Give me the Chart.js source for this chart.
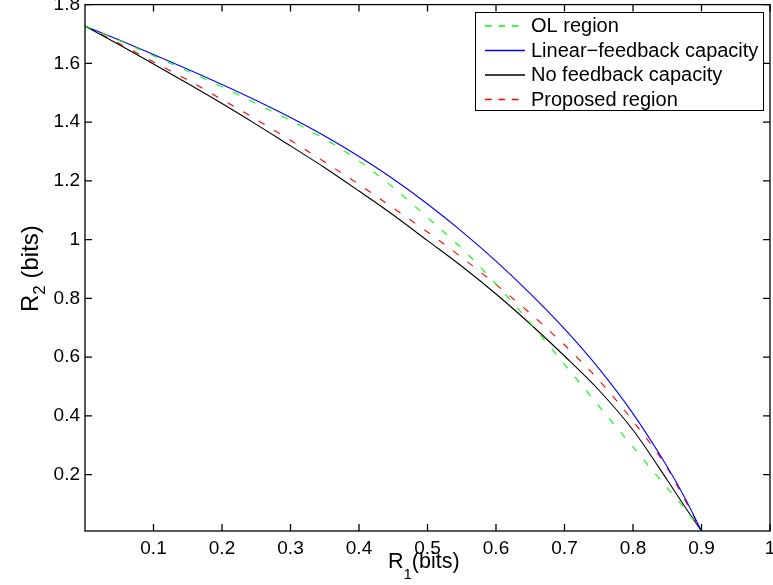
<!DOCTYPE html>
<html>
<head>
<meta charset="utf-8">
<script src="https://cdn.jsdelivr.net/npm/chart.js@4.4.0/dist/chart.umd.min.js"></script>
<style>
    html, body { margin: 0; padding: 0; background: #fff; }
</style>
</head>
<body>
<canvas id="graphique-regions" width="773" height="585"></canvas>
<script>
// R1 (bits) : abscisses communes aux quatre courbes
const r1Values = [0, 0.05, 0.1, 0.15, 0.2, 0.25, 0.3, 0.35, 0.4, 0.45, 0.5, 0.55, 0.6, 0.65, 0.7, 0.75, 0.8, 0.85, 0.875, 0.9];

// R2 (bits)
const olRegion       = [1.727, 1.678, 1.626, 1.574, 1.520, 1.463, 1.4055, 1.3425, 1.2675, 1.1773, 1.0752, 0.970, 0.849, 0.716, 0.5755, 0.434, 0.294, 0.154, 0.086, 0.008];
const linearFeedback = [1.727, 1.6795, 1.630, 1.580, 1.528, 1.4735, 1.4157, 1.3527, 1.2829, 1.2063, 1.1212, 1.0279, 0.9265, 0.8158, 0.6957, 0.5615, 0.4077, 0.2265, 0.124, 0.008];
const noFeedback     = [1.727, 1.6635, 1.5978, 1.5314, 1.4633, 1.3922, 1.319, 1.2448, 1.1654, 1.0837, 0.9966, 0.9091, 0.8148, 0.7127, 0.6037, 0.488, 0.3518, 0.1816, 0.0931, 0.008];
const proposedRegion = [1.727, 1.6676, 1.6046, 1.5433, 1.4769, 1.4089, 1.338, 1.2642, 1.1876, 1.1076, 1.0259, 0.9391, 0.8471, 0.7484, 0.6412, 0.522, 0.3824, 0.2225, 0.116, 0.008];

const seriesLabels = ["OL region", "Linear\u2212feedback capacity", "No feedback capacity", "Proposed region"];
const seriesColors = ["rgb(0, 255, 0)", "rgb(0, 0, 255)", "rgb(0, 0, 0)", "rgb(255, 0, 0)"];

// Graduations
const xTicks = [0.1, 0.2, 0.3, 0.4, 0.5, 0.6, 0.7, 0.8, 0.9, 1];
const yTicks = [0.2, 0.4, 0.6, 0.8, 1, 1.2, 1.4, 1.6, 1.8];

const police = "'Liberation Sans', Arial, Helvetica, sans-serif";

function points(serie) {
    return r1Values.map((x, i) => ({ x: x, y: serie[i] }));
}

// Cadre, graduations internes, légende et titres façon MATLAB
const cadre = {
    id: "cadre",
    afterDraw(chart) {
        const ctx = chart.ctx;
        const a = chart.chartArea;
        const sx = chart.scales.x;
        const sy = chart.scales.y;
        ctx.save();
        ctx.strokeStyle = "#000";
        ctx.lineWidth = 1.3;
        ctx.setLineDash([]);
        ctx.strokeRect(a.left, a.top, a.right - a.left, a.bottom - a.top);
        ctx.beginPath();
        for (const v of xTicks) {
            const px = sx.getPixelForValue(v);
            ctx.moveTo(px, a.bottom); ctx.lineTo(px, a.bottom - 7);
            ctx.moveTo(px, a.top); ctx.lineTo(px, a.top + 7);
        }
        for (const v of yTicks) {
            const py = sy.getPixelForValue(v);
            ctx.moveTo(a.left, py); ctx.lineTo(a.left + 7, py);
            ctx.moveTo(a.right, py); ctx.lineTo(a.right - 7, py);
        }
        ctx.stroke();

        // Légende
        const lx = 475.5, ly = 12.5, lw = 288, lh = 98;
        ctx.fillStyle = "#fff";
        ctx.fillRect(lx, ly, lw, lh);
        ctx.lineWidth = 1;
        ctx.strokeStyle = "#000";
        ctx.strokeRect(lx, ly, lw, lh);
        ctx.font = "20px " + police;
        ctx.textBaseline = "middle";
        ctx.textAlign = "left";
        chart.data.datasets.forEach((ds, i) => {
            const y = 26 + i * 24.5;
            ctx.beginPath();
            ctx.strokeStyle = seriesColors[i];
            ctx.lineWidth = 1.6;
            ctx.setLineDash(ds.borderDash.length ? [6.7, 6.7] : []);
            ctx.moveTo(485, y);
            ctx.lineTo(525, y);
            ctx.stroke();
            ctx.fillStyle = "#000";
            ctx.fillText(ds.label, 531, y + 0.5);
        });
        ctx.setLineDash([]);

        // Titre de l'axe des abscisses : R1(bits)
        ctx.fillStyle = "#000";
        ctx.textBaseline = "alphabetic";
        let x = 388;
        ctx.font = "21.5px " + police;
        ctx.fillText("R", x, 568);
        x += ctx.measureText("R").width;
        ctx.font = "15px " + police;
        ctx.fillText("1", x, 579);
        x += ctx.measureText("1").width;
        ctx.font = "21.5px " + police;
        ctx.fillText("(bits)", x, 568);

        // Titre de l'axe des ordonnées : R2 (bits)
        ctx.translate(38, 312);
        ctx.rotate(-Math.PI / 2);
        x = 0;
        ctx.font = "24px " + police;
        ctx.fillText("R", x, 0);
        x += ctx.measureText("R").width;
        ctx.font = "17px " + police;
        ctx.fillText("2", x, 7);
        x += ctx.measureText("2").width;
        ctx.font = "24px " + police;
        ctx.fillText(" (bits)", x, 0);
        ctx.restore();
    }
};

const data = {
    datasets: [
        { label: seriesLabels[0], data: points(olRegion), borderColor: seriesColors[0], borderDash: [7, 11] },
        { label: seriesLabels[1], data: points(linearFeedback), borderColor: seriesColors[1], borderDash: [] },
        { label: seriesLabels[2], data: points(noFeedback), borderColor: seriesColors[2], borderDash: [] },
        { label: seriesLabels[3], data: points(proposedRegion), borderColor: seriesColors[3], borderDash: [7, 11] },
    ],
};

const config = {
    type: "line",
    data: data,
    options: {
        responsive: false,
        animation: false,
        devicePixelRatio: 1,
        datasets: {
            line: {
                borderWidth: 1.1,
                pointRadius: 0,
                fill: false,
                cubicInterpolationMode: "monotone",
            },
        },
        layout: { padding: { top: 4.6, right: 3, left: 0, bottom: 0 } },
        plugins: {
            legend: { display: false },
            tooltip: { enabled: false },
        },
        scales: {
            x: {
                type: "linear",
                min: 0,
                max: 1,
                grid: { display: false, drawTicks: false },
                border: { display: false },
                ticks: {
                    color: "#000",
                    font: { family: police, size: 19 },
                    padding: 6,
                    maxRotation: 0,
                    callback: (v) => String(v),
                },
                afterBuildTicks: (scale) => { scale.ticks = xTicks.map(v => ({ value: v })); },
                afterFit: (scale) => { scale.height = 54; scale.paddingLeft = 0; scale.paddingRight = 0; },
            },
            y: {
                type: "linear",
                min: 0.008,
                max: 1.8,
                grid: { display: false, drawTicks: false },
                border: { display: false },
                ticks: {
                    color: "#000",
                    font: { family: police, size: 19 },
                    padding: 5,
                    callback: (v) => String(v),
                },
                afterBuildTicks: (scale) => { scale.ticks = yTicks.map(v => ({ value: v })); },
                afterFit: (scale) => { scale.width = 85; scale.paddingTop = 0; scale.paddingBottom = 0; },
            },
        },
    },
    plugins: [cadre],
};

new Chart(document.querySelector("#graphique-regions"), config);
</script>
</body>
</html>
